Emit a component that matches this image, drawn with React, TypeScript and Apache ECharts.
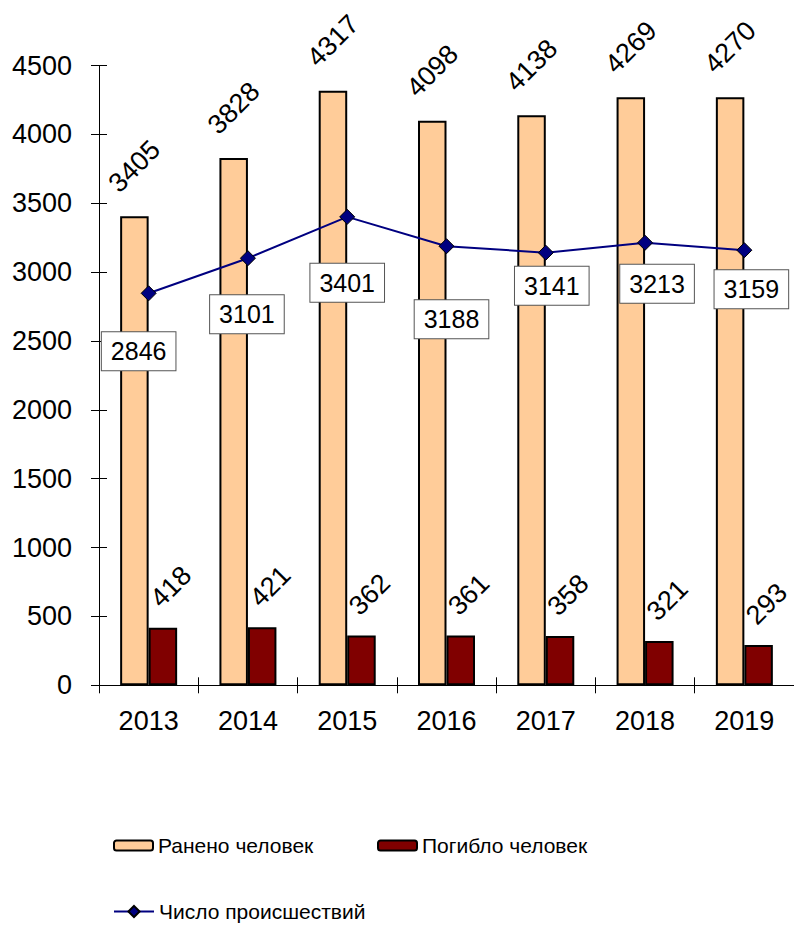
import React, { useEffect, useRef } from "react";
import * as echarts from "echarts";

const years = ["2013", "2014", "2015", "2016", "2017", "2018", "2019"];
const injured = [3405, 3828, 4317, 4098, 4138, 4269, 4270];
const killed = [418, 421, 362, 361, 358, 321, 293];
const accidents = [2846, 3101, 3401, 3188, 3141, 3213, 3159];
const yTicks = { min: 0, max: 4500, interval: 500 };

// label box offsets (screen px) relative to each point, as positioned in the reference
const accidentLabelOffsets = [
  [-10, 58],
  [-1, 56],
  [0, 66],
  [5, 73],
  [6, 33],
  [12, 41],
  [7, 39],
];

const FONT = "'Liberation Sans', Arial, sans-serif";

export default function App() {
  const ref = useRef<HTMLDivElement>(null);
  useEffect(() => {
    document.body.style.margin = "0";
    const chart = echarts.init(ref.current!, null, { renderer: "svg" });
    const legendText = { fontSize: 21, fontFamily: FONT, color: "#000" };
    const option: any = {
      animation: false,
      textStyle: { fontFamily: FONT, color: "#000" },
      grid: { left: 99, right: 0, top: 65.5, height: 619.8, containLabel: false },
      legend: [
        {
          left: 113,
          top: 835,
          padding: 0,
          itemWidth: 39,
          itemHeight: 10,
          data: ["Ранено человек"],
          textStyle: legendText,
        },
        {
          left: 377,
          top: 835,
          padding: 0,
          itemWidth: 39,
          itemHeight: 10,
          data: ["Погибло человек"],
          textStyle: legendText,
        },
        {
          left: 113,
          top: 901,
          padding: 0,
          itemWidth: 40,
          itemHeight: 14,
          data: ["Число происшествий"],
          textStyle: legendText,
        },
      ],
      xAxis: [
        {
          type: "category",
          data: years,
          position: "bottom",
          boundaryGap: true,
          axisLine: { show: true, lineStyle: { color: "#000", width: 1 } },
          axisTick: { show: true, inside: false, length: 8, lineStyle: { color: "#000" } },
          axisLabel: { fontSize: 27, color: "#000", fontFamily: FONT, margin: 22 },
          splitLine: { show: false },
        },
        {
          type: "category",
          data: years,
          position: "bottom",
          boundaryGap: true,
          axisLine: { show: false },
          axisTick: { show: true, inside: true, length: 8, lineStyle: { color: "#000" } },
          axisLabel: { show: false },
          splitLine: { show: false },
        },
      ],
      yAxis: [
        {
          type: "value",
          min: yTicks.min,
          max: yTicks.max,
          interval: yTicks.interval,
          axisLine: { show: true, lineStyle: { color: "#000", width: 1 } },
          axisTick: { show: true, inside: false, length: 8, lineStyle: { color: "#000" } },
          axisLabel: {
            fontSize: 27,
            color: "#000",
            fontFamily: FONT,
            margin: 27,
            formatter: (v: number) => String(v),
          },
          splitLine: { show: false },
        },
        {
          type: "value",
          position: "left",
          min: yTicks.min,
          max: yTicks.max,
          interval: yTicks.interval,
          axisLine: { show: false },
          axisTick: { show: true, inside: true, length: 8, lineStyle: { color: "#000" } },
          axisLabel: { show: false },
          splitLine: { show: false },
        },
      ],
      series: [
        {
          name: "Ранено человек",
          type: "bar",
          data: injured,
          barWidth: 28.5,
          barGap: "0%",
          itemStyle: { color: "#FFCC99", borderColor: "#000", borderWidth: 2 },
          label: {
            show: true,
            position: "top",
            distance: 50,
            rotate: 45,
            align: "center",
            verticalAlign: "middle",
            fontSize: 27,
            fontFamily: FONT,
            color: "#000",
          },
        },
        {
          name: "Погибло человек",
          type: "bar",
          data: killed,
          barWidth: 28.5,
          barGap: "0%",
          itemStyle: { color: "#800000", borderColor: "#000", borderWidth: 2 },
          label: {
            show: true,
            position: "top",
            distance: 41,
            rotate: 45,
            offset: [5.66, 5.66],
            align: "center",
            verticalAlign: "middle",
            fontSize: 27,
            fontFamily: FONT,
            color: "#000",
          },
        },
        {
          name: "Число происшествий",
          type: "line",
          data: accidents.map((v, i) => ({
            value: v,
            label: { offset: accidentLabelOffsets[i] },
          })),
          symbol: "diamond",
          symbolSize: 15,
          z: 5,
          lineStyle: { color: "#000080", width: 2 },
          itemStyle: { color: "#000080", borderColor: "#000", borderWidth: 1 },
          label: {
            show: true,
            position: "inside",
            align: "center",
            verticalAlign: "middle",
            fontSize: 25,
            fontFamily: FONT,
            color: "#000",
            backgroundColor: "#fff",
            borderColor: "#555",
            borderWidth: 1,
            padding: [6, 9, 5, 9],
            lineHeight: 27,
          },
        },
      ],
    };
    chart.setOption(option);
    return () => chart.dispose();
  }, []);
  return <div ref={ref} style={{ width: 794, height: 925 }} />;
}
